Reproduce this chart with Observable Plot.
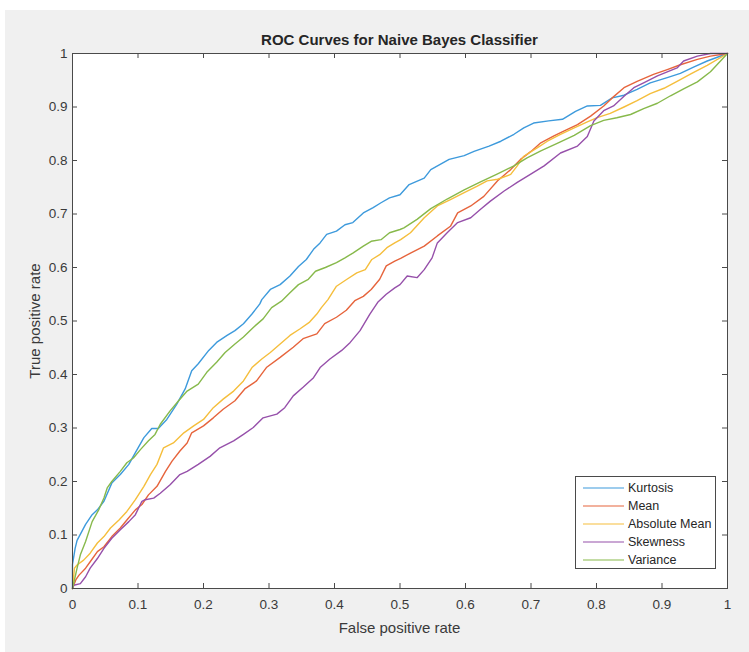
<!DOCTYPE html>
<html><head><meta charset="utf-8">
<script src="https://cdn.jsdelivr.net/npm/d3@7"></script>
<script src="https://cdn.jsdelivr.net/npm/@observablehq/plot@0.6"></script>
<style>
body{margin:0;background:#fff;font-family:"Liberation Sans",Arial,sans-serif;}
#fig{position:absolute;left:5px;top:10px;width:744px;height:642px;background:#f0f0f0;overflow:hidden;}
#fig svg{position:absolute;left:0;top:0;}
.lbl{position:absolute;color:#3a3a3a;white-space:nowrap;}
#title{left:67px;width:655px;top:21px;text-align:center;font-weight:bold;font-size:15px;line-height:18px;color:#262626;}
#xlabel{left:67px;width:655px;top:609px;text-align:center;font-size:15px;line-height:18px;}
#ylabel{left:30px;top:310.5px;transform:translate(-50%,-50%) rotate(-90deg);font-size:15px;line-height:18px;}
#legend{position:absolute;left:570px;top:466px;width:141px;height:93px;box-sizing:border-box;border:1px solid #4a4a4a;background:#fff;}
</style>
</head><body>
<div id="fig">
  <div id="title" class="lbl">ROC Curves for Naive Bayes Classifier</div>
  <div id="xlabel" class="lbl">False positive rate</div>
  <div id="ylabel" class="lbl">True positive rate</div>
  <div id="legend"></div>
</div>
<script>
const seriesNames = ["Kurtosis", "Mean", "Absolute Mean", "Skewness", "Variance"];
const seriesColors = ["#3D9ADC", "#E6643C", "#F5BE3C", "#9650AA", "#87B94B"];
const xTicks = [0,0.1,0.2,0.3,0.4,0.5,0.6,0.7,0.8,0.9,1];
const xTickLabels = ["0","0.1","0.2","0.3","0.4","0.5","0.6","0.7","0.8","0.9","1"];
const yTicks = [0,0.1,0.2,0.3,0.4,0.5,0.6,0.7,0.8,0.9,1];
const yTickLabels = ["0","0.1","0.2","0.3","0.4","0.5","0.6","0.7","0.8","0.9","1"];

const kurtosisFPR = [0,0,0.004,0.007,0.02,0.03,0.038,0.048,0.06,0.073,0.086,0.096,0.109,0.121,0.131,0.144,0.159,0.172,0.182,0.192,0.208,0.22,0.236,0.248,0.261,0.274,0.286,0.289,0.302,0.317,0.332,0.345,0.357,0.368,0.378,0.388,0.403,0.416,0.428,0.444,0.459,0.471,0.484,0.5,0.514,0.537,0.547,0.575,0.598,0.613,0.636,0.654,0.674,0.689,0.704,0.727,0.748,0.768,0.786,0.806,0.824,0.842,0.862,0.882,0.908,0.928,0.949,0.969,1];
const kurtosisTPR = [0,0.045,0.075,0.09,0.12,0.138,0.147,0.163,0.197,0.213,0.232,0.254,0.282,0.299,0.299,0.316,0.344,0.373,0.407,0.42,0.445,0.46,0.473,0.482,0.495,0.513,0.532,0.54,0.559,0.568,0.584,0.602,0.615,0.634,0.646,0.662,0.668,0.68,0.684,0.702,0.712,0.721,0.73,0.736,0.755,0.767,0.783,0.802,0.809,0.817,0.827,0.836,0.849,0.861,0.87,0.874,0.877,0.892,0.902,0.903,0.917,0.922,0.933,0.945,0.955,0.963,0.975,0.986,1];

const meanFPR = [0,0.005,0.01,0.02,0.027,0.038,0.048,0.06,0.073,0.083,0.096,0.106,0.116,0.129,0.142,0.152,0.164,0.175,0.182,0.2,0.215,0.23,0.248,0.263,0.281,0.296,0.317,0.337,0.352,0.373,0.385,0.403,0.418,0.431,0.444,0.456,0.469,0.479,0.492,0.501,0.516,0.537,0.557,0.577,0.588,0.608,0.628,0.649,0.669,0.684,0.7,0.715,0.735,0.75,0.771,0.791,0.811,0.824,0.842,0.862,0.887,0.908,0.928,0.954,0.974,1];
const meanTPR = [0,0.016,0.025,0.038,0.05,0.069,0.078,0.097,0.113,0.128,0.147,0.157,0.175,0.191,0.219,0.238,0.257,0.272,0.291,0.304,0.319,0.335,0.351,0.373,0.388,0.413,0.432,0.451,0.467,0.476,0.495,0.507,0.52,0.538,0.546,0.559,0.578,0.603,0.612,0.617,0.627,0.64,0.659,0.677,0.702,0.715,0.733,0.762,0.783,0.802,0.817,0.833,0.846,0.855,0.867,0.883,0.902,0.917,0.936,0.948,0.961,0.97,0.979,0.989,0.995,1];

const absMeanFPR = [0,0.003,0.007,0.017,0.027,0.038,0.048,0.058,0.071,0.083,0.096,0.109,0.119,0.129,0.139,0.154,0.17,0.185,0.2,0.215,0.23,0.246,0.261,0.274,0.289,0.302,0.317,0.332,0.347,0.362,0.373,0.38,0.39,0.403,0.419,0.434,0.447,0.457,0.469,0.48,0.492,0.501,0.516,0.537,0.557,0.577,0.598,0.618,0.633,0.649,0.669,0.679,0.689,0.71,0.725,0.745,0.766,0.786,0.801,0.821,0.842,0.862,0.882,0.903,0.923,0.944,0.969,1];
const absMeanTPR = [0,0.038,0.044,0.053,0.066,0.085,0.097,0.113,0.128,0.144,0.166,0.191,0.213,0.232,0.263,0.272,0.291,0.304,0.316,0.338,0.354,0.369,0.388,0.413,0.429,0.441,0.457,0.473,0.485,0.498,0.513,0.525,0.54,0.565,0.578,0.59,0.596,0.615,0.624,0.637,0.646,0.652,0.665,0.693,0.715,0.727,0.74,0.752,0.762,0.765,0.774,0.79,0.808,0.824,0.836,0.849,0.861,0.872,0.88,0.888,0.9,0.912,0.925,0.935,0.948,0.962,0.978,1];

const skewFPR = [0,0.002,0.012,0.02,0.027,0.038,0.048,0.06,0.073,0.086,0.096,0.106,0.111,0.124,0.134,0.149,0.164,0.175,0.192,0.21,0.225,0.246,0.261,0.276,0.291,0.312,0.324,0.337,0.352,0.368,0.378,0.393,0.411,0.424,0.439,0.454,0.466,0.479,0.492,0.5,0.511,0.526,0.537,0.549,0.557,0.572,0.588,0.608,0.623,0.638,0.659,0.679,0.699,0.72,0.745,0.771,0.786,0.796,0.811,0.826,0.842,0.857,0.872,0.893,0.923,0.933,0.954,0.974,1];
const skewTPR = [0,0.006,0.009,0.022,0.038,0.056,0.075,0.094,0.11,0.125,0.138,0.163,0.166,0.169,0.178,0.194,0.213,0.219,0.232,0.247,0.263,0.276,0.288,0.301,0.319,0.326,0.338,0.36,0.376,0.394,0.413,0.429,0.445,0.46,0.482,0.513,0.535,0.55,0.562,0.568,0.584,0.581,0.596,0.618,0.646,0.665,0.684,0.693,0.709,0.724,0.743,0.759,0.774,0.79,0.814,0.827,0.845,0.874,0.893,0.902,0.92,0.936,0.945,0.958,0.973,0.986,0.995,1,1];

const varFPR = [0,0.007,0.012,0.02,0.03,0.04,0.048,0.053,0.06,0.073,0.083,0.093,0.104,0.116,0.126,0.134,0.149,0.162,0.175,0.192,0.205,0.22,0.233,0.248,0.261,0.276,0.291,0.304,0.319,0.332,0.345,0.36,0.371,0.386,0.403,0.416,0.428,0.444,0.456,0.471,0.484,0.5,0.506,0.526,0.547,0.572,0.598,0.623,0.649,0.674,0.694,0.715,0.74,0.766,0.791,0.811,0.831,0.852,0.872,0.893,0.913,0.933,0.954,0.974,1];
const varTPR = [0,0.038,0.063,0.088,0.125,0.147,0.169,0.188,0.2,0.219,0.235,0.244,0.26,0.276,0.288,0.307,0.332,0.351,0.369,0.382,0.404,0.423,0.441,0.457,0.47,0.488,0.504,0.525,0.537,0.553,0.568,0.578,0.593,0.6,0.609,0.618,0.627,0.64,0.649,0.652,0.665,0.671,0.674,0.69,0.71,0.728,0.745,0.76,0.775,0.79,0.805,0.818,0.832,0.847,0.865,0.875,0.88,0.886,0.897,0.907,0.921,0.934,0.947,0.966,1];

const seriesFPR = [kurtosisFPR, meanFPR, absMeanFPR, skewFPR, varFPR];
const seriesTPR = [kurtosisTPR, meanTPR, absMeanTPR, skewTPR, varTPR];

const rows = [];
seriesNames.forEach((name, k) => {
  seriesFPR[k].forEach((fx, i) => rows.push({series: name, fpr: fx, tpr: seriesTPR[k][i]}));
});

const W = 744, H = 642, mL = 67, mR = 22, mT = 43, mB = 64;
const fw = W - mL - mR, fh = H - mT - mB;
const axisColor = "#4a4a4a";
const textColor = "#3a3a3a";

const chart = Plot.plot({
  width: W, height: H,
  marginLeft: mL, marginRight: mR, marginTop: mT, marginBottom: mB,
  style: {background: "transparent", fontFamily: "'Liberation Sans', Arial, sans-serif", fontSize: "13.5px", color: textColor},
  x: {domain: [0, 1]},
  y: {domain: [0, 1]},
  color: {domain: seriesNames, range: seriesColors},
  marks: [
    Plot.frame({fill: "white", stroke: null}),
    Plot.line(rows, {x: "fpr", y: "tpr", z: "series", stroke: "series", strokeWidth: 1.4}),
    Plot.frame({stroke: axisColor, strokeWidth: 1}),
    Plot.ruleX(xTicks, {x: d => d, insetTop: fh - 5, stroke: axisColor}),
    Plot.ruleX(xTicks, {x: d => d, insetBottom: fh - 5, stroke: axisColor}),
    Plot.ruleY(yTicks, {y: d => d, insetRight: fw - 5, stroke: axisColor}),
    Plot.ruleY(yTicks, {y: d => d, insetLeft: fw - 5, stroke: axisColor}),
    Plot.axisX(xTicks, {tickSize: 0, tickPadding: 11, tickFormat: (d, i) => xTickLabels[i], label: null, fontSize: 13.5}),
    Plot.axisY(yTicks, {tickSize: 0, tickPadding: 5, tickFormat: (d, i) => yTickLabels[i], label: null, fontSize: 13.5})
  ]
});
document.getElementById("fig").insertBefore(chart, document.getElementById("fig").firstChild);

// legend
const lg = d3.select("#legend").append("svg").attr("width", 139).attr("height", 91)
  .style("position", "absolute").style("left", "0px").style("top", "0px");
const rowsG = lg.selectAll("g").data(seriesNames).join("g")
  .attr("transform", (d, i) => `translate(0,${11 + i * 18})`);
rowsG.append("line").attr("x1", 7).attr("x2", 48).attr("y1", 0).attr("y2", 0)
  .attr("stroke", (d, i) => seriesColors[i]).attr("stroke-width", 1.2);
rowsG.append("text").attr("x", 52).attr("y", 0).attr("dy", "0.35em")
  .attr("font-family", "'Liberation Sans', Arial, sans-serif").attr("font-size", 12.5)
  .attr("fill", "#262626").text(d => d);
</script>
</body></html>
